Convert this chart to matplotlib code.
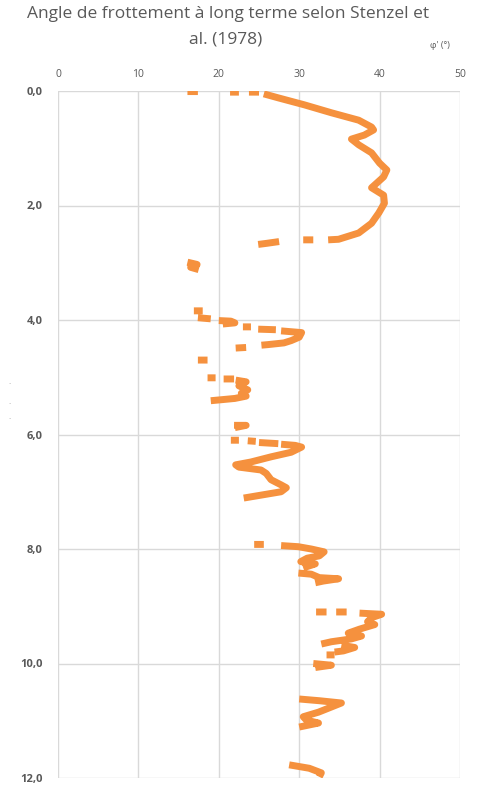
import numpy as np
import matplotlib.pyplot as plt

# friction angle phi' (deg) vs depth (m); None breaks the trace between runs
phi = [16.1, 17.4, None,
       21.4, 22.5, None,
       23.75, 25.0, None,
       25.6, 27.4, 30.6, 34.0, 37.4, 39.0, 39.25, 38.1, 36.5, 37.4, 39.0, 40.0,
       40.9, 40.5, 39.0, 40.5, 40.6, 39.9, 39.0, 37.4, 34.9, 33.6, None,
       30.5, 31.75, None,
       24.9, 26.0, 27.5, None,
       16.1, 17.3, 16.5, 17.5, None,
       16.9, 18.0, None,
       17.4, 19.0, None,
       20.0, 21.5, 22.0, 20.5, None,
       23.0, 24.0, None,
       24.9, 27.1, None,
       27.75, 29.5, 30.3, 30.0, 29.0, 28.1, 26.1, 25.3, None,
       22.1, 23.4, None,
       17.4, 18.6, None,
       18.6, 19.6, None,
       20.6, 21.9, None,
       22.1, 23.4, 22.5, 23.6, 22.8, 23.4, 22.0, 19.0, None,
       21.9, 23.4, 22.0, None,
       21.5, 22.5, None,
       23.6, 24.6, None,
       25.0, 27.4, None,
       27.75, 29.5, 30.3, 29.0, 26.5, 24.0, 22.1, 22.5, 25.25, 25.9, 26.5,
       27.75, 28.4, 27.75, 25.25, 23.1, None,
       24.4, 25.6, None,
       27.75, 29.9, 31.5, 33.1, 32.5, 31.0, 30.2, 32.0, 30.5, None,
       29.9, 31.5, 32.5, 34.9, 33.0, 32.0, None,
       32.1, 33.4, None,
       34.6, 35.9, None,
       37.5, 40.25, 39.0, 38.5, 39.4, 37.5, 36.1, 37.75, 36.5, 34.0, 32.75, None,
       35.25, 36.9, 35.5, 34.4, None,
       33.4, 34.4, None,
       31.75, 34.0, 32.0, None,
       30.0, 32.5, 35.25, 32.4, 30.5, 30.9, 32.4, 30.0, None,
       28.75, 31.25, 32.75, 32.5]

depth = [0.01, 0.01, None,
         0.02, 0.02, None,
         0.02, 0.02, None,
         0.05, 0.12, 0.24, 0.38, 0.51, 0.63, 0.68, 0.77, 0.84, 0.94, 1.08, 1.26,
         1.38, 1.50, 1.69, 1.82, 1.96, 2.13, 2.31, 2.48, 2.59, 2.60, None,
         2.60, 2.60, None,
         2.68, 2.66, 2.63, None,
         2.99, 3.03, 3.08, 3.12, None,
         3.84, 3.84, None,
         3.96, 3.98, None,
         4.01, 4.02, 4.05, 4.07, None,
         4.12, 4.12, None,
         4.16, 4.17, None,
         4.19, 4.21, 4.22, 4.30, 4.36, 4.40, 4.43, 4.44, None,
         4.49, 4.48, None,
         4.70, 4.70, None,
         5.01, 5.01, None,
         5.03, 5.03, None,
         5.05, 5.08, 5.15, 5.22, 5.28, 5.33, 5.37, 5.41, None,
         5.84, 5.84, 5.88, None,
         6.10, 6.10, None,
         6.11, 6.12, None,
         6.14, 6.16, None,
         6.17, 6.19, 6.22, 6.31, 6.39, 6.48, 6.53, 6.57, 6.62, 6.68, 6.79,
         6.88, 6.93, 7.00, 7.06, 7.11, None,
         7.92, 7.92, None,
         7.94, 7.96, 8.00, 8.05, 8.12, 8.16, 8.22, 8.26, 8.33, None,
         8.42, 8.44, 8.50, 8.52, 8.56, 8.59, None,
         9.10, 9.10, None,
         9.10, 9.10, None,
         9.12, 9.14, 9.20, 9.27, 9.32, 9.40, 9.47, 9.52, 9.57, 9.62, 9.66, None,
         9.68, 9.72, 9.78, 9.80, None,
         9.85, 9.85, None,
         10.00, 10.03, 10.07, None,
         10.62, 10.65, 10.69, 10.85, 10.93, 10.99, 11.04, 11.11, None,
         11.77, 11.83, 11.91, 11.98]

x_ticks = [0, 10, 20, 30, 40, 50]
y_ticks = [0, 2, 4, 6, 8, 10, 12]

phi = np.array([np.nan if v is None else v for v in phi], dtype=float)
depth = np.array([np.nan if v is None else v for v in depth], dtype=float)

plt.rcParams['font.family'] = ['Open Sans', 'DejaVu Sans']
grey = '#595959'

fig = plt.figure(figsize=(4.79, 7.85), dpi=100)
ax = fig.add_axes([58 / 479, 1 - 778 / 785, 402 / 479, 687 / 785])

ax.plot(phi, depth, color='#F5913E', lw=5, solid_capstyle='butt',
        solid_joinstyle='round')

ax.set_xlim(0, 50)
ax.set_ylim(12, 0)
ax.set_xticks(x_ticks)
ax.set_yticks(y_ticks)
ax.set_xticklabels([str(v) for v in x_ticks])
ax.set_yticklabels([f"{v:.1f}".replace('.', ',') for v in y_ticks],
                   fontweight='bold')
ax.xaxis.tick_top()
ax.tick_params(axis='x', length=0, pad=8, labelsize=7.5, labelcolor=grey)
ax.tick_params(axis='y', length=0, pad=11, labelsize=8, labelcolor=grey)
ax.grid(True, color='#d9d9d9', lw=1)
ax.set_axisbelow(True)
for s in ax.spines.values():
    s.set_visible(False)

fig.text(0.476, 1 - 14 / 785, "Angle de frottement à long terme selon Stenzel et",
         ha='center', va='center', fontsize=12.5, color=grey)
fig.text(0.47, 1 - 40 / 785, "al. (1978)",
         ha='center', va='center', fontsize=12.5, color=grey)
fig.text(440 / 479, 1 - 45 / 785, "φ' (°)", ha='center', va='center',
         fontsize=6.5, color=grey)

# faint leftovers of the rotated y-axis caption
for yy in (385, 405, 420):
    fig.text(10 / 479, 1 - yy / 785, "·", ha='center', va='center',
             fontsize=6, color='#a0a0a0')

fig.savefig('out.png', dpi=100)
